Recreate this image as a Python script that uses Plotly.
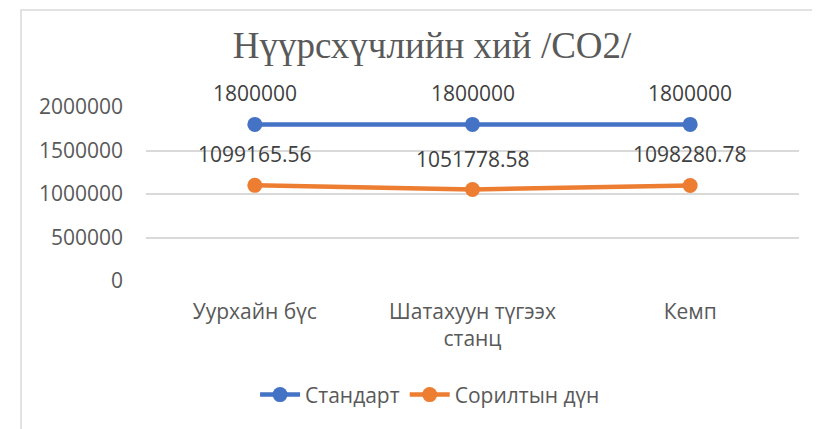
import plotly.graph_objects as go

categories = ["Уурхайн бүс", "Шатахуун түгээх<br>станц", "Кемп"]
standard = [1800000, 1800000, 1800000]
result = [1099165.56, 1051778.58, 1098280.78]
standard_labels = ["1800000", "1800000", "1800000"]
result_labels = ["1099165.56", "1051778.58", "1098280.78"]
y_ticks = [0, 500000, 1000000, 1500000, 2000000]

BLUE = "#4472C4"
ORANGE = "#ED7D31"
FONT = "Open Sans"

fig = go.Figure()
fig.add_trace(go.Scatter(x=categories, y=standard, name="Стандарт", mode="lines+markers",
                         line=dict(color=BLUE, width=4.5), marker=dict(size=15, color=BLUE),
                         cliponaxis=False))
fig.add_trace(go.Scatter(x=categories, y=result, name="Сорилтын дүн", mode="lines+markers",
                         line=dict(color=ORANGE, width=4.5), marker=dict(size=15, color=ORANGE),
                         cliponaxis=False))

annotations = []
for c, v, t in zip(categories, standard, standard_labels):
    annotations.append(dict(x=c, y=v, text=t, showarrow=False, yshift=31,
                            font=dict(family=FONT, size=21, color="#404040")))
for c, v, t in zip(categories, result, result_labels):
    annotations.append(dict(x=c, y=v, text=t, showarrow=False, yshift=31,
                            font=dict(family=FONT, size=21, color="#404040")))

fig.update_layout(
    width=812, height=421, autosize=False,
    margin=dict(l=138, r=21, t=99, b=148),
    paper_bgcolor="white", plot_bgcolor="white",
    title=dict(text="Нүүрсхүчлийн хий /CO2/", x=0.438, xref="paper", xanchor="center",
               y=1 - 37 / 421, yref="container", yanchor="middle",
               font=dict(family="Liberation Serif", size=37, color="#595959")),
    showlegend=True,
    legend=dict(orientation="h", x=0.435, xanchor="center", y=-0.655, yanchor="middle",
                font=dict(family=FONT, size=21, color="#595959"), itemwidth=40,
                bgcolor="rgba(0,0,0,0)"),
    annotations=annotations,
    xaxis=dict(showgrid=False, showline=False, zeroline=False, ticks="",
               range=[-0.5, 2.5],
               tickfont=dict(family=FONT, size=21, color="#595959"),
               ticklabelstandoff=16),
    yaxis=dict(range=[0, 2000000], tickvals=y_ticks, ticktext=[str(v) for v in y_ticks],
               showgrid=True, gridcolor="#D9D9D9", gridwidth=1.5, zeroline=False,
               showline=False, ticks="", ticklabelstandoff=22,
               tickfont=dict(family=FONT, size=21, color="#595959")),
    shapes=[dict(type="rect", xref="paper", yref="paper", x0=-0.1914, x1=1.5,
                 y0=-1.5, y1=1.557, line=dict(color="#D9D9D9", width=1.5),
                 fillcolor="rgba(0,0,0,0)", layer="below")],
)

fig.write_html("out.html")
